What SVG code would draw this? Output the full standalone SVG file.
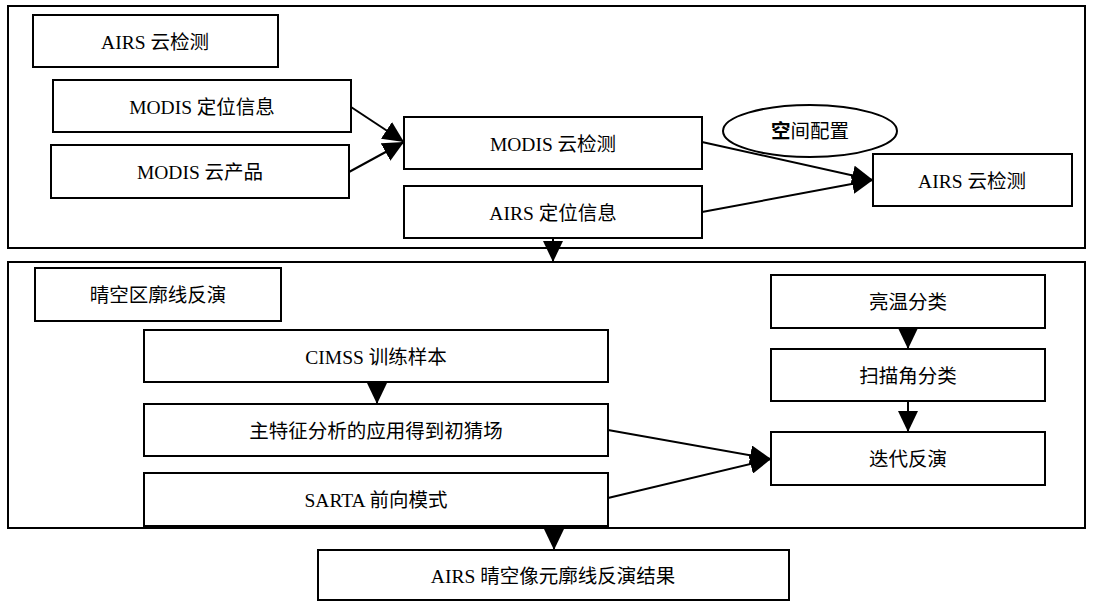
<svg xmlns="http://www.w3.org/2000/svg" width="1093" height="603" viewBox="0 0 1093 603">
<style>
.box{fill:#fff;stroke:#000;stroke-width:2}
.frame{fill:none;stroke:#000;stroke-width:2}
.t{font-family:"Liberation Serif","Noto Sans CJK SC",serif;font-size:19.5px;text-anchor:middle;fill:#000}
.c{stroke:#000;stroke-width:2;fill:none}
</style>
<defs>
<marker id="ah" markerUnits="userSpaceOnUse" markerWidth="21" markerHeight="20" refX="21" refY="10" orient="auto">
<path d="M0,0 L21,10 L0,20 z" fill="#000"/>
</marker>
</defs>
<rect width="1093" height="603" fill="#fff"/>
<g id="frame1"><rect class="frame" x="8" y="6" width="1077" height="242"/></g>
<g id="frame2"><rect class="frame" x="8" y="262" width="1077" height="266"/></g>

<g id="n_airs_title"><rect class="box" x="33" y="15" width="245" height="52"/><text class="t" x="155" y="49">AIRS 云检测</text></g>
<g id="n_modis_geo"><rect class="box" x="53" y="80" width="298" height="52"/><text class="t" x="202" y="114">MODIS 定位信息</text></g>
<g id="n_modis_cloud"><rect class="box" x="51" y="145" width="298" height="53"/><text class="t" x="200" y="179">MODIS 云产品</text></g>
<g id="n_modis_det"><rect class="box" x="404" y="117" width="298" height="52"/><text class="t" x="553" y="151">MODIS 云检测</text></g>
<g id="n_airs_geo"><rect class="box" x="404" y="186" width="298" height="52"/><text class="t" x="553" y="220">AIRS 定位信息</text></g>
<g id="n_spatial"><ellipse cx="810" cy="131" rx="87" ry="26" fill="#fff" stroke="#000" stroke-width="2"/><text class="t" x="810" y="138"><tspan font-weight="bold">空</tspan>间配置</text></g>
<g id="n_airs_det"><rect class="box" x="873" y="154" width="199" height="52"/><text class="t" x="972" y="188">AIRS 云检测</text></g>

<g id="n_clear_title"><rect class="box" x="35" y="268" width="246" height="53"/><text class="t" x="158" y="302">晴空区廓线反演</text></g>
<g id="n_cimss"><rect class="box" x="144" y="330" width="464" height="52"/><text class="t" x="376" y="364">CIMSS 训练样本</text></g>
<g id="n_pca"><rect class="box" x="144" y="404" width="464" height="52"/><text class="t" x="376" y="438">主特征分析的应用得到初猜场</text></g>
<g id="n_sarta"><rect class="box" x="144" y="473" width="464" height="53"/><text class="t" x="376" y="507">SARTA 前向模式</text></g>
<g id="n_bt"><rect class="box" x="771" y="275" width="274" height="53"/><text class="t" x="908" y="309">亮温分类</text></g>
<g id="n_scan"><rect class="box" x="771" y="349" width="274" height="52"/><text class="t" x="908" y="383">扫描角分类</text></g>
<g id="n_iter"><rect class="box" x="771" y="432" width="274" height="53"/><text class="t" x="908" y="466">迭代反演</text></g>
<g id="n_result"><rect class="box" x="318" y="550" width="471" height="50"/><text class="t" x="553" y="583">AIRS 晴空像元廓线反演结果</text></g>

<g id="connectors">
<line class="c" x1="351" y1="107" x2="404" y2="142" marker-end="url(#ah)"/>
<line class="c" x1="349" y1="172" x2="404" y2="142" marker-end="url(#ah)"/>
<line class="c" x1="702" y1="142" x2="873" y2="180" marker-end="url(#ah)"/>
<line class="c" x1="702" y1="212" x2="873" y2="180" marker-end="url(#ah)"/>
<line class="c" x1="553" y1="238" x2="553" y2="262" marker-end="url(#ah)"/>
<line class="c" x1="377" y1="382" x2="377" y2="404" marker-end="url(#ah)"/>
<line class="c" x1="908" y1="328" x2="908" y2="349" marker-end="url(#ah)"/>
<line class="c" x1="908" y1="401" x2="908" y2="432" marker-end="url(#ah)"/>
<line class="c" x1="608" y1="430" x2="771" y2="459" marker-end="url(#ah)"/>
<line class="c" x1="608" y1="498" x2="771" y2="459" marker-end="url(#ah)"/>
<line class="c" x1="554" y1="528" x2="554" y2="550" marker-end="url(#ah)"/>
</g>
</svg>
